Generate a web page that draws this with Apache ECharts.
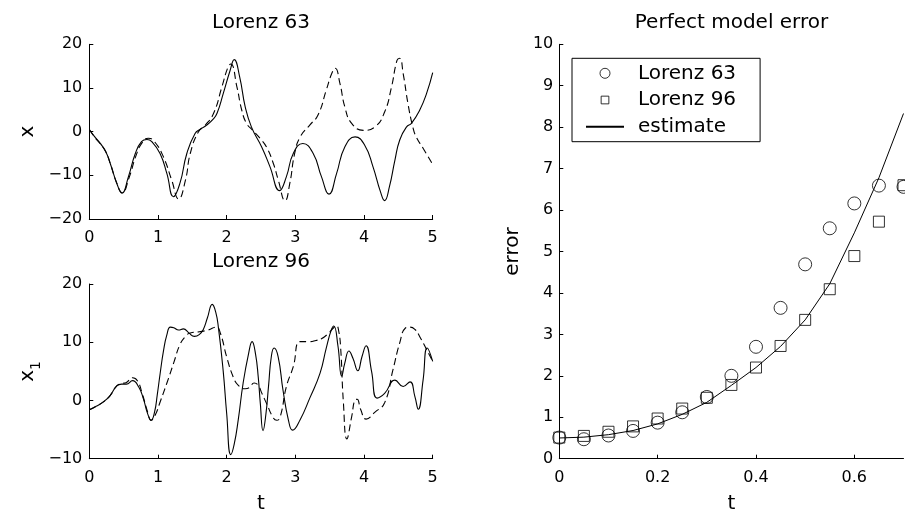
<!DOCTYPE html>
<html><head><meta charset="utf-8">
<script src="https://cdn.jsdelivr.net/npm/echarts@6.0.0/dist/echarts.min.js"></script>
<style>html,body{margin:0;padding:0;background:#fff}#c{width:905px;height:513px}</style>
</head><body><div id="c"></div>
<script>
// ---- Lorenz 63 (top-left) ----
const l63TrueT = [0,0.08,0.16,0.24,0.305,0.40,0.475,0.57,0.67,0.76,0.84,0.91,1.03,1.13,1.225,1.32,1.42,1.54,1.62,1.71,1.80,1.86,1.95,2.05,2.11,2.19,2.27,2.36,2.51,2.63,2.77,2.87,2.97,3.11,3.26,3.38,3.49,3.6,3.72,3.87,4.01,4.13,4.24,4.3,4.37,4.45,4.52,4.62,4.69,4.81,4.91,5.0];
const l63TrueX = [0.5,-1.2,-2.7,-4.6,-7.3,-11.8,-14.1,-10.3,-5,-2.3,-1.8,-2.3,-5,-9.6,-14.9,-11.8,-5,-0.4,0.6,1.5,2.8,4.2,8.7,14,16.5,12.5,5.7,1.1,-3.5,-8,-13.5,-10.3,-5,-2.7,-5,-10.3,-14.3,-9.6,-3.5,-1.2,-3.1,-8,-13.8,-15.8,-12.6,-6.5,-1.9,1.1,1.9,4.9,8.7,13.5];
const l63ModelT = [0,0.08,0.16,0.24,0.31,0.40,0.48,0.58,0.68,0.77,0.86,0.95,1.08,1.2,1.3,1.4,1.47,1.59,1.69,1.81,1.93,2.02,2.06,2.15,2.22,2.29,2.38,2.49,2.58,2.68,2.75,2.85,2.92,2.99,3.07,3.21,3.33,3.45,3.53,3.58,3.65,3.72,3.82,3.99,4.16,4.3,4.4,4.48,4.52,4.57,4.64,4.71,4.76,4.86,5.0];
const l63ModelX = [0.5,-1.3,-2.8,-4.6,-7.5,-11.8,-14.0,-10.5,-5.5,-2.5,-1.5,-2.3,-5.8,-11.1,-15.4,-11.1,-5,0,1.5,4.2,10.2,14.8,15.5,10.2,4.9,1.9,0.3,-1.6,-3.5,-7.3,-11,-15.8,-11.8,-5,-1.2,1.5,3.8,9.5,13.3,14.5,11,5.7,1.9,0.3,1.1,4.5,10.2,16.3,16.8,13.3,6.4,1.1,-1.2,-3.8,-7.5];

// ---- Lorenz 96 (bottom-left) ----
const l96TrueT = [0,0.1,0.21,0.3,0.4,0.47,0.54,0.63,0.72,0.79,0.85,0.9,0.95,0.99,1.03,1.08,1.13,1.18,1.23,1.3,1.37,1.45,1.53,1.6,1.66,1.72,1.79,1.84,1.88,1.95,2.0,2.06,2.11,2.17,2.24,2.32,2.37,2.42,2.46,2.49,2.53,2.57,2.61,2.65,2.69,2.75,2.82,2.9,2.96,3.07,3.21,3.36,3.45,3.52,3.56,3.62,3.675,3.72,3.78,3.84,3.91,3.97,4.03,4.11,4.19,4.3,4.45,4.57,4.67,4.74,4.79,4.86,4.92,5.0];
const l96TrueX = [-1.6,-1.0,-0.2,0.8,2.5,2.8,2.8,3.4,2.3,0.2,-2.3,-3.4,-2.0,1.0,4.5,8.5,11.3,12.6,12.5,12.1,12.3,11.6,11.0,11.3,12.2,14.2,16.5,15.2,12.5,5.0,-2.2,-9.3,-7.5,-3.2,3.0,8.1,10.1,8.0,4.0,-0.5,-5.2,-2.5,2.5,7.5,9.0,7.5,1.8,-3.4,-5.1,-3.3,0.4,4.7,9.0,12.0,12.8,9.4,4.2,6.4,8.5,7.2,5.1,7.5,9.4,5.0,0.4,1.2,3.5,2.4,3.2,0.7,-1.5,3.5,9.0,6.7];
const l96ModelT = [0,0.1,0.21,0.3,0.4,0.47,0.54,0.63,0.7,0.77,0.85,0.9,0.96,1.03,1.13,1.23,1.32,1.4,1.47,1.6,1.73,1.85,1.91,2.0,2.1,2.17,2.27,2.33,2.4,2.46,2.51,2.58,2.68,2.73,2.78,2.87,2.97,3.07,3.21,3.3,3.38,3.48,3.55,3.6,3.63,3.66,3.7,3.75,3.82,3.87,3.9,3.95,4.03,4.16,4.3,4.42,4.52,4.6,4.67,4.75,4.81,4.9,5.0];
const l96ModelX = [-1.6,-1.0,-0.2,0.8,2.5,2.9,3.1,3.9,3.4,1.2,-2.0,-3.4,-2.5,-0.3,3.0,6.5,9.6,11.0,11.6,11.8,12.1,12.6,11.5,7.5,3.9,2.6,2.0,2.2,3.0,2.6,1.3,-0.5,-3.0,-3.4,-2.8,2.4,5.8,10.1,10.1,10.3,10.6,11.5,12.4,12.8,12.0,9.0,-0.4,-6.6,-2.8,0.1,0.2,-1.5,-3.2,-2.0,-0.4,5.2,9.9,12.4,12.6,12.1,11.0,9.0,6.7];

// ---- Perfect model error (right) ----
const errT      = [0,0.05,0.1,0.15,0.2,0.25,0.3,0.35,0.4,0.45,0.5,0.55,0.6,0.65,0.7];
const errL63    = [0.51,0.47,0.56,0.67,0.87,1.12,1.49,2.0,2.7,3.64,4.69,5.56,6.16,6.59,6.56];
const errL96    = [0.51,0.55,0.65,0.78,0.97,1.21,1.47,1.78,2.2,2.72,3.35,4.09,4.89,5.72,6.6];
const errEst    = [0.5,0.52,0.58,0.68,0.84,1.07,1.36,1.77,2.2,2.71,3.35,4.22,5.45,6.78,8.33];

// ---- tick labels ----
const tTicks     = [0,1,2,3,4,5];
const l63Ticks   = [-20,-10,0,10,20];
const l96Ticks   = [-10,0,10,20];
const errTTicks  = [0,0.2,0.4,0.6];
const errTMax    = 0.7;
const errYTicks  = [0,1,2,3,4,5,6,7,8,9,10];

const FONT = 'DejaVu Sans';
const pairs = (t, v) => t.map((x, i) => [x, v[i]]);
const minus = v => String(v).replace('-', '\u2212');

function axis(gi, ticks, margin, extra) {
  return Object.assign({
    type: 'value', gridIndex: gi,
    min: ticks[0], max: ticks[ticks.length - 1], interval: ticks[1] - ticks[0],
    axisLine: {show: true, onZero: false, lineStyle: {color: '#000', width: 1}},
    axisTick: {show: true, inside: true, length: 4, lineStyle: {color: '#000', width: 1}},
    axisLabel: {show: true, color: '#000', fontSize: 16, fontFamily: FONT, margin: margin, formatter: minus},
    splitLine: {show: false},
    nameTextStyle: {color: '#000', fontSize: 20, fontFamily: FONT}
  }, extra || {});
}

function traj(name, gi, t, v, dashed) {
  return {
    type: 'line', name: name, xAxisIndex: gi, yAxisIndex: gi, data: pairs(t, v),
    symbol: 'none', smooth: 0.5, silent: true, animation: false,
    lineStyle: {color: '#000', width: 1.1, type: dashed ? [7, 4] : 'solid'},
    itemStyle: {color: '#000'}, z: dashed ? 2 : 3
  };
}

const chart = echarts.init(document.getElementById('c'), null, {renderer: 'canvas'});
const titleStyle = t => ({text: t, fontSize: 20, fontFamily: FONT, fill: '#000', align: 'center', verticalAlign: 'middle', textAlign: 'center', textVerticalAlign: 'middle'});

chart.setOption({
  animation: false,
  backgroundColor: '#fff',
  textStyle: {fontFamily: FONT, color: '#000'},
  grid: [
    {left: 89.3, top: 44.3, width: 343.4, height: 174.7, outerBoundsMode: 'none', containLabel: false},
    {left: 89.3, top: 284, width: 343.4, height: 174.7, outerBoundsMode: 'none', containLabel: false},
    {left: 559.3, top: 44.3, width: 344.2, height: 414.4, outerBoundsMode: 'none', containLabel: false}
  ],
  xAxis: [
    axis(0, tTicks, 11),
    axis(1, tTicks, 11, {name: 't', nameLocation: 'middle', nameGap: 35}),
    axis(2, errTTicks, 11, {max: errTMax, name: 't', nameLocation: 'middle', nameGap: 35,
      axisLabel: {show: true, color: '#000', fontSize: 16, fontFamily: FONT, margin: 11, showMaxLabel: false,
        formatter: v => String(+v.toFixed(2))}})
  ],
  yAxis: [
    axis(0, l63Ticks, 7, {name: 'x', nameLocation: 'middle', nameGap: 52}),
    axis(1, l96Ticks, 7, {name: '{a|x}{b|1}', nameLocation: 'middle', nameGap: 46,
      nameTextStyle: {color: '#000', fontSize: 20, fontFamily: FONT,
        rich: {a: {fontSize: 20, fontFamily: FONT, color: '#000'},
               b: {fontSize: 14, fontFamily: FONT, color: '#000', verticalAlign: 'bottom', lineHeight: 31}}}}),
    axis(2, errYTicks, 6, {name: 'error', nameLocation: 'middle', nameGap: 37})
  ],
  legend: {
    data: [
      {name: 'Lorenz 63', itemStyle: {borderWidth: 1, borderColor: '#000'}},
      {name: 'Lorenz 96', icon: 'path://M-1.5,-1.5M11.5,11.5M0,0H10V10H0Z', itemStyle: {borderWidth: 1, borderColor: '#000'}},
      {name: 'estimate'}
    ],
    orient: 'vertical', left: 572, top: 58.3,
    itemWidth: 38, itemHeight: 10, itemGap: 6.7,
    padding: [5, 24, 5, 13],
    borderColor: '#000', borderWidth: 1, backgroundColor: '#fff',
    selectedMode: false, symbolKeepAspect: true,
    textStyle: {fontSize: 20, fontFamily: FONT, color: '#000', padding: [0, 0, 0, 9]}
  },
  graphic: [
    {type: 'text', x: 261, y: 22.3, style: titleStyle('Lorenz 63')},
    {type: 'text', x: 261, y: 261.7, style: titleStyle('Lorenz 96')},
    {type: 'text', x: 731.5, y: 22.3, style: titleStyle('Perfect model error')}
  ],
  series: [
    traj('L63 true', 0, l63TrueT, l63TrueX, false),
    traj('L63 model', 0, l63ModelT, l63ModelX, true),
    traj('L96 true', 1, l96TrueT, l96TrueX, false),
    traj('L96 model', 1, l96ModelT, l96ModelX, true),
    {type: 'scatter', name: 'Lorenz 63', xAxisIndex: 2, yAxisIndex: 2, data: pairs(errT, errL63),
     symbol: 'circle', symbolSize: 13, clip: false, silent: true,
     itemStyle: {color: 'rgba(0,0,0,0)', borderColor: '#000', borderWidth: 1}, z: 4},
    {type: 'scatter', name: 'Lorenz 96', xAxisIndex: 2, yAxisIndex: 2, data: pairs(errT, errL96),
     symbol: 'rect', symbolSize: 11, clip: false, silent: true,
     itemStyle: {color: 'rgba(0,0,0,0)', borderColor: '#000', borderWidth: 1}, z: 4},
    {type: 'line', name: 'estimate', xAxisIndex: 2, yAxisIndex: 2, data: pairs(errT, errEst),
     symbol: 'none', smooth: false, silent: true,
     lineStyle: {color: '#000', width: 1}, itemStyle: {color: 'rgba(0,0,0,0)', borderWidth: 0}, z: 3}
  ]
});
</script></body></html>
